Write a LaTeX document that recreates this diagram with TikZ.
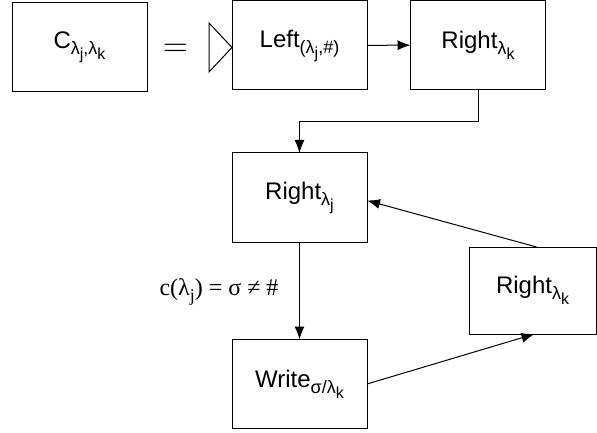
\documentclass[tikz,border=0pt]{standalone}
\usepackage{fontspec}
\setmainfont{Liberation Sans}
\newfontfamily\serifnum{Liberation Serif}
\usetikzlibrary{arrows.meta}
\tikzset{
  blocco/.style={draw,line width=0.5pt,minimum width=67.5pt,minimum height=44.5pt,
    inner sep=0pt,outer sep=0pt,font=\fontsize{12}{14}\selectfont},
  freccia/.style={line width=0.5pt,-{Latex[length=6.5pt,width=5pt]}}
}
\newcommand{\sba}[1]{\raisebox{-3pt}{\fontsize{9}{9}\selectfont #1}}
\newcommand{\sbb}[1]{\raisebox{-2.5pt}{\fontsize{8}{8}\selectfont #1}}
\begin{document}
\begin{tikzpicture}[x=0.5pt,y=-0.5pt]
    \useasboundingbox (0,0) rectangle (597,432);
    % --- riga superiore ---
    \node[blocco] (cjk) at (79.5,47.5) {C\sba{λ\sbb{j},λ\sbb{k}}};
    \node[font=\LARGE] (ug) at (175.5,50) {$=$};
    \draw[line width=0.5pt] (209,23) -- (232,47.5) -- (209,72) -- cycle;
    \node[blocco] (left) at (299.5,45.5) {Left\sba{(λ\sbb{j},\#)}};
    \node[blocco] (rtop) at (478,45) {Right\sba{λ\sbb{k}}};
    % --- ciclo ---
    \node[blocco] (rj) at (299.5,197.5) {Right\sba{λ\sbb{j}}};
    \node[blocco] (wr) at (299.5,384) {Write\sba{σ/λ\sbb{k}}};
    \node[blocco,minimum width=63.5pt,minimum height=43.5pt] (rk) at (532.5,290.5) {Right\sba{λ\sbb{k}}};
    \node[font=\serifnum\fontsize{12}{14}\selectfont] (cond) at (219,292) {c(λ\sba{j}) = σ ≠ \#};
    % --- frecce ---
    \draw[freccia] (left) -- (rtop);
    \draw[freccia] (rtop.south) -- ++(0,-16pt) -| (rj.north);
    \draw[freccia] (rj) -- (wr);
    \draw[freccia] (wr.east) -- ([xshift=1pt]rk.south);
    \draw[freccia] ([xshift=2pt]rk.north) -- ([yshift=-1.5pt]rj.east);
\end{tikzpicture}
\end{document}
